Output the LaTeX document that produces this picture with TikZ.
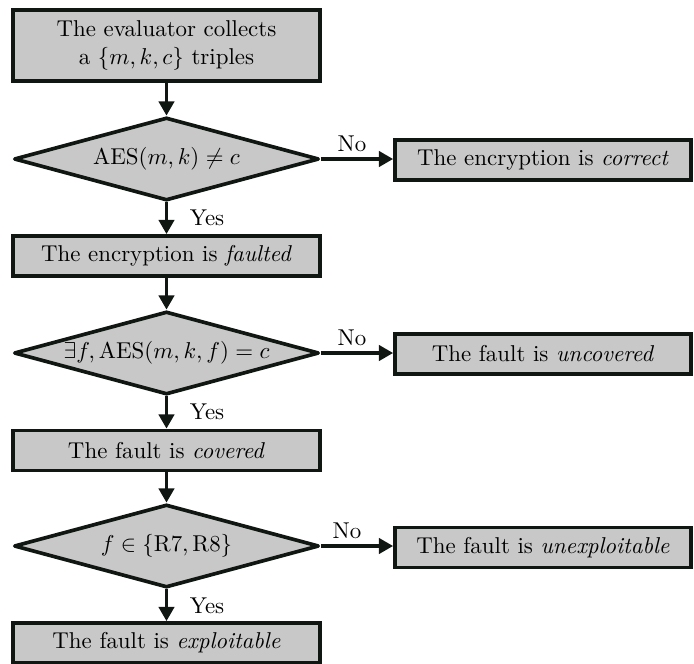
\documentclass[tikz,border=0pt]{standalone}
\usetikzlibrary{shapes.geometric,arrows.meta}
\newcommand{\pxu}{0.4366pt}
\definecolor{boxfill}{RGB}{200,200,200}
\definecolor{ink}{RGB}{16,22,18}
\begin{document}
\begin{tikzpicture}[x=\pxu, y=-\pxu,
  base/.style={draw=ink, fill=boxfill, line width=1.6pt, inner sep=0pt, align=center},
  mainbox/.style={base, rectangle, minimum width=307*\pxu, minimum height=40*\pxu},
  sidebox/.style={base, rectangle, minimum width=296*\pxu, minimum height=40*\pxu},
  decision/.style={base, diamond, aspect=3.67, line join=round, minimum width=305*\pxu, minimum height=83*\pxu},
  flow/.style={draw=ink, line width=1.6pt, -{Triangle[length=6.2pt,width=6.6pt]}},
  lbl/.style={inner sep=0pt}
]
\useasboundingbox (0,0) rectangle (694,664);

% main column
\node[mainbox, minimum height=71*\pxu] (start) at (166.5,45.5)
  {The evaluator collects\\ a $\{m,k,c\}$ triples};
\node[decision] (d1) at (166.5,159) {$\mathrm{AES}(m,k) \neq c$};
\node[mainbox] (faulted) at (166.5,256) {The encryption is \emph{faulted}};
\node[decision] (d2) at (166.5,353) {$\exists f, \mathrm{AES}(m,k,f) = c$};
\node[mainbox] (covered) at (166.5,450.5) {The fault is \emph{covered}};
\node[decision] (d3) at (166.5,546) {$f \in \{\mathrm{R7},\mathrm{R8}\}$};
\node[mainbox] (exploit) at (166.5,643) {The fault is \emph{exploitable}};

% outcomes on the right
\node[sidebox] (correct) at (543,160) {The encryption is \emph{correct}};
\node[sidebox] (uncov) at (543,354) {The fault is \emph{uncovered}};
\node[sidebox] (unexp) at (543,547.5) {The fault is \emph{unexploitable}};

% connectors
\draw[flow] (start) -- (d1);
\draw[flow] (d1) -- (faulted);
\draw[flow] (faulted) -- (d2);
\draw[flow] (d2) -- (covered);
\draw[flow] (covered) -- (d3);
\draw[flow] (d3) -- (exploit);
\draw[flow] (d1.east) -- (correct.west |- d1.east);
\draw[flow] (d2.east) -- (uncov.west |- d2.east);
\draw[flow] (d3.east) -- (unexp.west |- d3.east);

% branch labels
\node[lbl] (y1) at (207,218) {Yes};
\node[lbl] (y2) at (207,412) {Yes};
\node[lbl] (y3) at (207,606) {Yes};
\node[lbl] (n1) at (352,144) {No};
\node[lbl] (n2) at (352,338) {No};
\node[lbl] (n3) at (347,531) {No};
\end{tikzpicture}
\end{document}
